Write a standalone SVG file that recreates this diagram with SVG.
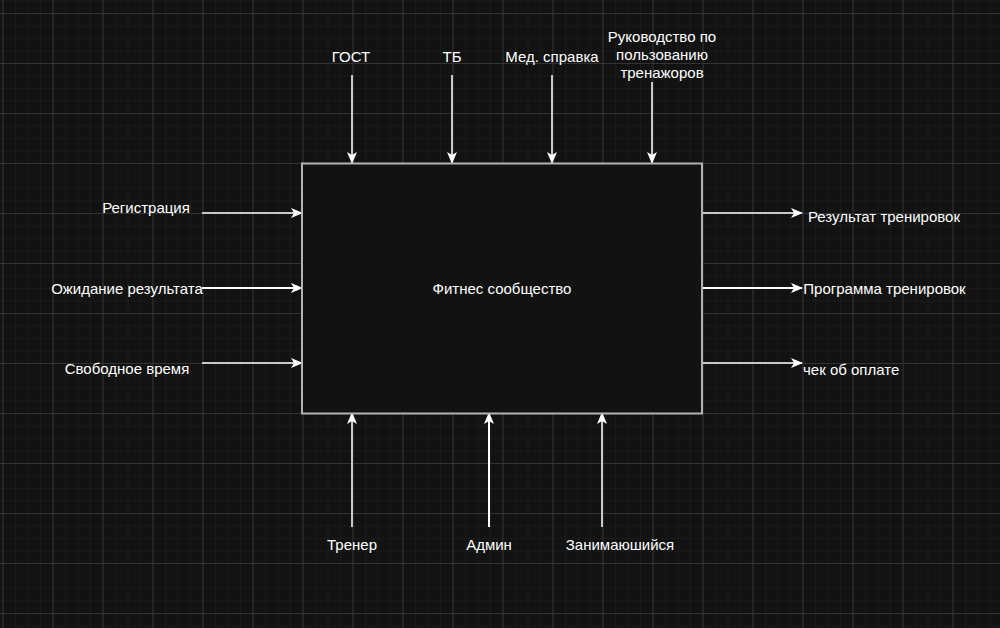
<svg xmlns="http://www.w3.org/2000/svg" width="1000" height="628" viewBox="0 0 1000 628">
<defs>
<pattern id="minor" x="2.5" y="0.5" width="12.5" height="12.5" patternUnits="userSpaceOnUse">
<path d="M0 0H12.5M0 0V12.5" fill="none" stroke="#222222" stroke-width="1"/>
</pattern>
<pattern id="major" x="2.5" y="13" width="50" height="50" patternUnits="userSpaceOnUse">
<path d="M0 0.5H50M0.5 0V50" fill="none" stroke="#333333" stroke-width="1"/>
</pattern>
<marker id="ah" viewBox="0 0 12 10" refX="11" refY="5" markerWidth="12" markerHeight="10" markerUnits="userSpaceOnUse" orient="auto">
<path d="M0 0L12 5L0 10L3 5Z" fill="#ffffff"/>
</marker>
<style>
text{font-family:"Liberation Sans",Arial,sans-serif;font-size:15px;fill:#ffffff}
.c{stroke:#c8c8c8;stroke-width:2;fill:none;marker-end:url(#ah)}
.w{stroke:#ffffff}
</style>
</defs>
<rect width="1000" height="628" fill="#121212"/>
<rect width="1000" height="628" fill="url(#minor)"/>
<rect width="1000" height="628" fill="url(#major)"/>
<g id="connectors">
<line class="c" x1="352" y1="75" x2="352" y2="163"/>
<line class="c" x1="452" y1="75" x2="452" y2="163"/>
<line class="c" x1="552" y1="75" x2="552" y2="163"/>
<line class="c" x1="652" y1="82" x2="652" y2="163"/>
<line class="c" x1="202" y1="213" x2="302" y2="213"/>
<line class="c w" x1="202" y1="288" x2="302" y2="288"/>
<line class="c" x1="202" y1="363" x2="302" y2="363"/>
<line class="c" x1="702" y1="213" x2="802" y2="213"/>
<line class="c w" x1="702" y1="288" x2="802" y2="288"/>
<line class="c" x1="702" y1="363" x2="802" y2="363"/>
<line class="c" x1="352" y1="527" x2="352" y2="413"/>
<line class="c w" x1="489" y1="527" x2="489" y2="413"/>
<line class="c" x1="602" y1="527" x2="602" y2="413"/>
</g>
<g id="main">
<rect x="302" y="163.5" width="400" height="250" fill="#121212" stroke="#b3b3b3" stroke-width="2"/>
<text x="502" y="294" text-anchor="middle">Фитнес сообщество</text>
</g>
<g id="gost"><text x="351" y="62" text-anchor="middle">ГОСТ</text></g>
<g id="tb"><text x="452" y="62" text-anchor="middle">ТБ</text></g>
<g id="med"><text x="552" y="62" text-anchor="middle">Мед. справка</text></g>
<g id="ruk"><text text-anchor="middle"><tspan x="662" y="42">Руководство по</tspan><tspan x="662" y="60">пользованию</tspan><tspan x="662" y="78">тренажоров</tspan></text></g>
<g id="reg"><text x="146" y="213" text-anchor="middle">Регистрация</text></g>
<g id="ozh"><text x="127" y="294" text-anchor="middle">Ожидание результата</text></g>
<g id="svob"><text x="127" y="374" text-anchor="middle">Свободное время</text></g>
<g id="rez"><text x="884" y="222" text-anchor="middle">Результат тренировок</text></g>
<g id="prog"><text x="884.5" y="294" text-anchor="middle">Программа тренировок</text></g>
<g id="chek"><text x="803" y="375">чек об оплате</text></g>
<g id="trener"><text x="352" y="550" text-anchor="middle">Тренер</text></g>
<g id="admin"><text x="489" y="550" text-anchor="middle">Админ</text></g>
<g id="zan"><text x="620" y="550" text-anchor="middle">Занимаюшийся</text></g>
</svg>
